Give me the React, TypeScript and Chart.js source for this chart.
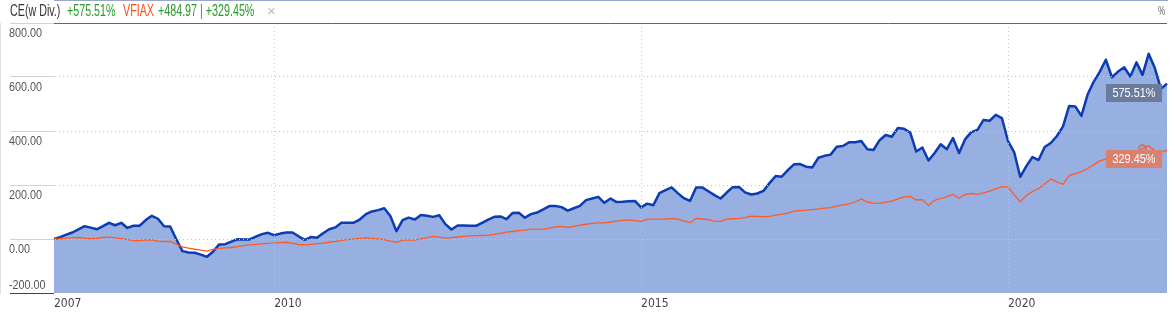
import React, { useEffect, useRef } from 'react';
import { Chart, registerables } from 'chart.js';

Chart.register(...registerables);

const FONT = "'Liberation Sans', Arial, 'DejaVu Sans', sans-serif";
const AXIS_FONT = "'DejaVu Sans Condensed', 'Liberation Sans', sans-serif";

// Cumulative return (%) of CE (with dividends), monthly from Jan 2007
const ceValues = [
  0, 6.7, 16, 24, 36, 47.5, 42, 36, 47.5, 60,
  51, 60, 41, 49, 49, 70, 86, 75, 47.5, 46,
  -1, -45, -50, -51, -58, -66, -47, -20, -19, -10,
  -1, -1.5, -1.5, 8.5, 18, 23, 14, 20, 24, 24,
  10, -3, 7, 5, 21.5, 36, 43, 60, 60, 60.5,
  72, 92, 102, 107, 114, 85, 29, 70, 79, 72,
  89, 86, 82, 88, 55, 35, 50, 50, 49, 49,
  60, 72, 82, 83.5, 73.5, 96.5, 97, 79, 92, 98,
  109.5, 122, 122, 118, 105, 114, 122.5, 144, 150, 156,
  134, 150, 136.6, 138, 140, 141, 117, 131, 125, 170,
  181, 191, 170, 151, 141, 191, 191, 177, 162.5, 150,
  172, 192, 193, 172.6, 165, 168.5, 178, 207, 233, 231,
  255, 276.5, 277.6, 268, 265, 301, 308, 312.5, 342, 344.5,
  358, 358, 363, 332, 329.6, 366, 385, 379, 411, 408,
  394.6, 324, 339, 290.6, 318.5, 350.8, 332.6, 374, 318.5, 370,
  396, 404, 441, 438, 460, 448, 363, 322, 230.5, 270,
  303.6, 292.5, 340.8, 355.6, 381.6, 417, 493, 491, 456, 534,
  582, 619, 664, 599, 620, 636, 602, 654, 608, 686,
  634, 556, 575.51,
];

// Cumulative return (%) of VFIAX, monthly from Jan 2007
const vfiaxValues = [
  0, 1, 3, 4, 5.5, 3.3, 1, 2.6, 5.5, 7,
  4.5, 1.5, -2, -6, -6, -3.7, -3, -8, -9.3, -9.3,
  -19, -29, -34, -38, -41.6, -45, -38.6, -34.5, -33, -31.5,
  -28, -24.5, -22, -19.7, -17.8, -16, -15, -13.4, -12, -16,
  -20.4, -21.5, -19.7, -17.4, -15, -12, -9, -5.2, -2.6, -0.4,
  2.2, 4, 2.2, 0.4, -2.2, -7.8, -12.6, -4.5, -4.5, -4,
  0.4, 4.8, 9.6, 6.7, 3.3, 5.2, 7.4, 9.6, 11.5, 12.2,
  13, 13.7, 17, 21, 25.2, 27.8, 30.8, 33, 36.4, 36.8,
  35.6, 40, 44.5, 46.4, 42.7, 46.8, 51, 54.6, 58, 59.8,
  59.8, 63, 66.4, 69, 70.5, 68, 65, 72.8, 73.5, 73.5,
  74, 75.7, 73.5, 66.8, 60.5, 76, 74, 72, 65, 65.3,
  73.5, 75, 76.5, 79, 84.6, 83.5, 82.4, 84, 88.3, 92,
  96, 103, 105.4, 107, 109, 111.7, 114, 116, 121.4, 126,
  130, 137, 148, 137, 133, 131.8, 136.6, 140.3, 149, 156,
  158, 144.4, 146, 124.4, 143.3, 150, 156.6, 164.8, 150.7, 165,
  168.5, 165.5, 171, 177.4, 185.6, 194, 193.4, 164.4, 137.7, 160.7,
  176, 186, 203.8, 222, 211.6, 202.3, 235, 242, 249.4, 261,
  274.7, 289.5, 296, 305.5, 314.8, 319.6, 301, 317.4, 335.2, 345.2,
  326.7, 320, 329.45,
];

const yearTickLabels = ['2007', '2010', '2015', '2020'];
const yTickValues = [800, 600, 400, 200, 0, -200];
const markedIndex = 178;

// Month categories (YYYY-MM), one per data point
const months: string[] = [];
for (let i = 0; i < ceValues.length; i++) {
  const y = 2007 + Math.floor(i / 12);
  const m = (i % 12) + 1;
  months.push(`${y}-${m < 10 ? '0' + m : m}`);
}

const BLUE_LINE = '#0b3cb3';
const BLUE_FILL = '#97b0e1';
const ORANGE = '#ff5a26';

function narrowText(ctx: CanvasRenderingContext2D, text: string, x: number, y: number, sx: number) {
  ctx.save();
  ctx.translate(x, y);
  ctx.scale(sx, 1);
  ctx.fillText(text, 0, 0);
  ctx.restore();
}

const overlayPlugin = {
  id: 'overlay',
  afterDraw(chart: any) {
    const { ctx, chartArea } = chart;
    const yScale = chart.scales.y;
    ctx.save();
    // top header line
    ctx.strokeStyle = '#666';
    ctx.lineWidth = 1;
    ctx.beginPath();
    ctx.moveTo(chartArea.left, Math.round(chartArea.top) + 0.5);
    ctx.lineTo(chartArea.right, Math.round(chartArea.top) + 0.5);
    ctx.stroke();

    // y labels
    ctx.font = `12px ${FONT}`;
    ctx.fillStyle = '#555';
    ctx.textAlign = 'left';
    ctx.textBaseline = 'middle';
    yTickValues.forEach((v) => {
      const py = yScale.getPixelForValue(v);
      const ty = v === yScale.min ? py - 7 : py + 11;
      narrowText(ctx, v.toFixed(2), 9, ty, 0.9);
    });

    // end labels
    const specs = [
      { ds: 1, bg: '#6a7b9d', vals: ceValues },
      { ds: 0, bg: '#d9806f', vals: vfiaxValues },
    ];
    ctx.font = `13px ${FONT}`;
    const sx = 0.84;
    specs.forEach((s) => {
      const meta = chart.getDatasetMeta(s.ds);
      const pt = meta.data[meta.data.length - 1];
      const text = `${s.vals[s.vals.length - 1].toFixed(2)}%`;
      const tw = ctx.measureText(text).width * sx;
      const w = Math.max(56, tw + 12);
      const h = 18;
      const right = chartArea.right - 5;
      const top = Math.round(pt.y);
      ctx.fillStyle = s.bg;
      ctx.fillRect(right - w, top, w, h);
      ctx.fillStyle = '#ffffff';
      ctx.textAlign = 'left';
      ctx.textBaseline = 'middle';
      narrowText(ctx, text, right - w / 2 - tw / 2, top + h / 2 + 0.5, sx);
    });
    ctx.restore();
  },
};

function ChartCanvas() {
  const ref = useRef<HTMLCanvasElement | null>(null);
  useEffect(() => {
    if (!ref.current) return;
    const chart = new Chart(ref.current, {
      type: 'line',
      data: {
        labels: months,
        datasets: [
          {
            label: 'VFIAX',
            data: vfiaxValues,
            borderColor: ORANGE,
            borderWidth: 1.3,
            fill: false,
            tension: 0,
            pointRadius: (c: any) => (c.dataIndex === markedIndex ? 3.5 : 0),
            pointBorderColor: ORANGE,
            pointBackgroundColor: 'rgba(0,0,0,0)',
            pointBorderWidth: 1.3,
          },
          {
            label: 'CE(w Div.)',
            data: ceValues,
            borderColor: BLUE_LINE,
            backgroundColor: BLUE_FILL,
            borderWidth: 2.5,
            borderJoinStyle: 'round',
            fill: 'start',
            tension: 0,
            pointRadius: 0,
          },
        ],
      },
      options: {
        animation: false,
        responsive: false,
        maintainAspectRatio: false,
        events: [],
        layout: { padding: { top: 23, right: 8, left: 0, bottom: 0 } },
        plugins: { legend: { display: false }, tooltip: { enabled: false } },
        scales: {
          x: {
            type: 'category',
            offset: false,
            afterFit: (s: any) => {
              s.height = 24;
            },
            grid: {
              color: (c: any) => (c.tick && c.tick.label && c.index > 0 ? '#c4c4c4' : 'rgba(0,0,0,0)'),
              drawTicks: false,
              z: 1,
            },
            border: { display: true, color: '#34508f', width: 1, dash: [1, 3] },
            ticks: {
              autoSkip: false,
              maxRotation: 0,
              minRotation: 0,
              align: 'start',
              padding: 4,
              color: '#444',
              font: { family: AXIS_FONT, size: 12 },
              callback: (_v: any, idx: number) => {
                const lab = months[idx];
                const [y, m] = lab.split('-');
                return m === '01' && yearTickLabels.includes(y) ? y : null;
              },
            },
          },
          y: {
            min: -200,
            max: 800,
            afterBuildTicks: (s: any) => {
              s.ticks = yTickValues.map((v) => ({ value: v }));
            },
            afterFit: (s: any) => {
              s.width = 54;
            },
            ticks: { display: false },
            grid: {
              color: (c: any) => (c.tick && c.tick.value > -200 && c.tick.value < 800 ? '#c4c4c4' : 'rgba(0,0,0,0)'),
              drawTicks: true,
              tickLength: 44,
              tickColor: (c: any) => (c.tick && c.tick.value === -200 ? '#444' : '#d2d2d2'),
              tickWidth: 1,
              z: 1,
            },
            border: { display: true, color: '#c4c4c4', dash: [1, 3] },
          },
        },
      },
      plugins: [overlayPlugin],
    } as any);
    return () => chart.destroy();
  }, []);
  return <canvas ref={ref} width={1175} height={317} style={{ width: 1175, height: 317, display: 'block' }} />;
}

const legendItems = [
  { text: 'CE(w Div.)', color: '#333', left: 10, size: 16, sx: 0.67 },
  { text: '+575.51%', color: '#2a9a2a', left: 67, size: 16, sx: 0.67 },
  { text: 'VFIAX', color: '#ff4d1a', left: 123, size: 16, sx: 0.67 },
  { text: '+484.97 | +329.45%', color: '#2a9a2a', left: 158, size: 16, sx: 0.67 },
  { text: '×', color: '#bbb', left: 267, size: 15, sx: 1 },
];

export default function App() {
  return (
    <div style={{ position: 'fixed', left: 0, top: 0, width: 1175, height: 317, background: '#fff' }}>
      <ChartCanvas />
      {legendItems.map((it) => (
        <span
          key={it.text}
          style={{
            position: 'absolute',
            top: 2,
            left: it.left,
            color: it.color,
            fontFamily: FONT,
            fontSize: it.size,
            lineHeight: '18px',
            whiteSpace: 'nowrap',
            transform: `scaleX(${it.sx})`,
            transformOrigin: 'left center',
          }}
        >
          {it.text}
        </span>
      ))}
      <span
        style={{
          position: 'absolute',
          top: 3,
          left: 1158,
          fontFamily: FONT,
          fontSize: 12,
          lineHeight: '16px',
          color: '#666',
          transform: 'scaleX(0.67)',
          transformOrigin: 'left center',
        }}
      >
        %
      </span>
    </div>
  );
}
